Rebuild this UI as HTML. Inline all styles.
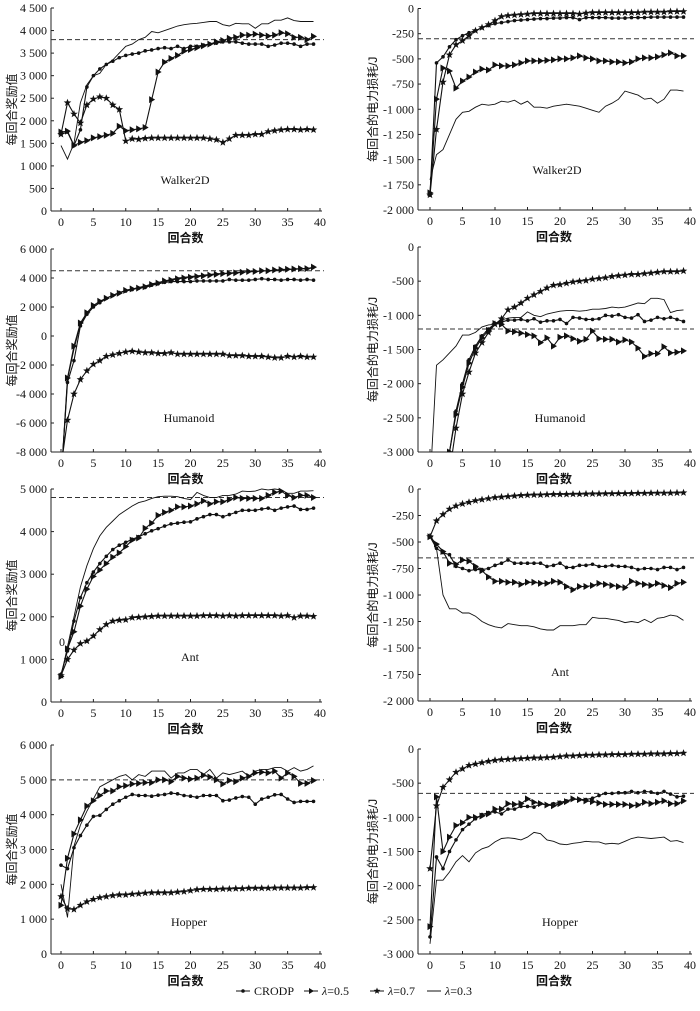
<!DOCTYPE html>
<html><head><meta charset="utf-8">
<style>
body{margin:0;background:#fff;}
svg text{font-family:"Liberation Serif","Noto Serif CJK SC",serif;fill:#111;}
svg text.cjk{font-family:"Liberation Sans","Noto Sans CJK SC",sans-serif;}
</style></head>
<body>
<svg id="chart" width="700" height="1006" viewBox="0 0 700 1006" xmlns="http://www.w3.org/2000/svg"></svg>
<script>
const episodes = Array.from({length:40},(_,i)=>i);
const seriesNames = ["CRODP","λ=0.5","λ=0.7","λ=0.3"];
// Walker2D reward
const w2dRewardCrodp=[1700,1750,1450,1800,2750,3000,3150,3250,3320,3400,3450,3480,3500,3550,3570,3600,3620,3600,3650,3600,3650,3650,3680,3700,3720,3750,3750,3750,3720,3700,3700,3700,3650,3680,3720,3720,3700,3650,3700,3700];
const w2dRewardL05=[1750,1770,1450,1520,1560,1620,1650,1680,1720,1880,1780,1800,1820,1850,2470,3080,3300,3380,3450,3540,3580,3620,3660,3700,3750,3780,3830,3850,3900,3900,3920,3900,3880,3900,3950,3930,3850,3850,3800,3870];
const w2dRewardL07=[1700,2400,2150,1950,2350,2480,2530,2500,2350,2250,1550,1600,1590,1610,1620,1620,1620,1620,1620,1620,1620,1620,1620,1600,1580,1520,1600,1680,1680,1680,1700,1700,1760,1780,1800,1810,1810,1800,1810,1800];
const w2dRewardL03=[1450,1150,1500,2400,2800,3000,3050,3250,3350,3500,3650,3700,3800,3850,3980,3950,4000,4050,4100,4130,4150,4160,4180,4200,4200,4130,4100,4160,4150,4150,4050,4150,4150,4230,4230,4280,4220,4200,4200,4200];
// Walker2D power
const w2dPowerCrodp=[-1850,-540,-480,-380,-310,-270,-240,-220,-190,-170,-150,-140,-130,-120,-115,-110,-105,-100,-100,-95,-95,-90,-90,-110,-90,-90,-90,-90,-95,-95,-95,-90,-90,-90,-85,-85,-85,-85,-85,-85];
const w2dPowerL05=[-1830,-900,-590,-620,-790,-720,-680,-630,-600,-610,-560,-570,-570,-560,-540,-520,-520,-520,-515,-510,-500,-500,-490,-470,-490,-500,-520,-520,-530,-530,-540,-530,-500,-490,-490,-480,-460,-440,-470,-470];
const w2dPowerL07=[-1850,-1200,-730,-460,-360,-320,-270,-220,-190,-160,-120,-80,-70,-65,-60,-55,-50,-50,-50,-50,-50,-50,-50,-55,-45,-40,-40,-40,-40,-40,-40,-40,-40,-35,-35,-35,-35,-30,-30,-30];
const w2dPowerL03=[-1700,-1450,-1400,-1250,-1100,-1030,-1020,-980,-950,-960,-950,-920,-930,-910,-950,-920,-980,-980,-990,-970,-960,-950,-960,-970,-990,-1010,-1030,-970,-940,-900,-820,-840,-860,-900,-890,-940,-900,-810,-810,-820];
// Humanoid reward
const humRewardCrodp=[-10000,-3200,-1700,700,1500,2000,2300,2600,2800,3000,3100,3200,3300,3350,3500,3600,3700,3750,3750,3750,3750,3800,3800,3800,3800,3800,3900,3850,3850,3850,3900,3950,3900,3900,3850,3900,3900,3850,3900,3850];
const humRewardL05=[-10000,-2900,-700,900,1600,2100,2400,2600,2800,2950,3150,3250,3300,3400,3550,3650,3800,3850,3950,4000,4050,4100,4150,4200,4250,4300,4320,4350,4400,4450,4450,4500,4500,4550,4580,4600,4620,4650,4650,4750];
const humRewardL07=[-9000,-5800,-4000,-3000,-2400,-1950,-1700,-1400,-1300,-1200,-1100,-1050,-1100,-1150,-1150,-1200,-1200,-1150,-1250,-1250,-1250,-1250,-1250,-1250,-1250,-1250,-1350,-1350,-1350,-1400,-1400,-1400,-1450,-1500,-1500,-1400,-1450,-1400,-1450,-1450];
const humRewardL03=[-10000,-3000,-900,800,1500,2000,2300,2600,2800,3000,3150,3250,3350,3450,3600,3700,3800,3900,4000,4050,4100,4150,4200,4250,4300,4320,4350,4380,4400,4420,4450,4480,4500,4520,4550,4580,4600,4620,4650,4680];
// Humanoid power
const humPowerCrodp=[-4500,-4000,-3500,-3000,-2400,-2000,-1650,-1450,-1300,-1200,-1120,-1100,-1070,-1070,-1060,-1080,-1050,-1100,-1080,-1080,-1060,-1120,-1030,-1040,-1060,-1060,-1050,-1000,-1010,-990,-1030,-1040,-990,-1090,-1070,-1030,-1050,-1030,-1060,-1090];
const humPowerL05=[-4500,-4200,-3700,-3000,-2450,-2050,-1700,-1480,-1330,-1220,-1120,-1130,-1230,-1240,-1260,-1280,-1300,-1400,-1330,-1450,-1320,-1300,-1340,-1380,-1350,-1230,-1340,-1350,-1350,-1390,-1360,-1390,-1480,-1600,-1560,-1560,-1460,-1550,-1540,-1520];
const humPowerL07=[-5000,-4500,-4000,-3300,-2650,-2150,-1830,-1550,-1400,-1250,-1130,-1050,-920,-880,-820,-750,-700,-650,-600,-560,-550,-530,-510,-500,-490,-470,-460,-450,-430,-420,-410,-400,-400,-390,-380,-370,-360,-360,-360,-350];
const humPowerL03=[-3500,-1730,-1650,-1550,-1450,-1290,-1290,-1250,-1170,-1140,-1130,-1070,-1040,-1030,-1030,-950,-1000,-1020,-980,-960,-940,-930,-930,-940,-930,-910,-910,-900,-880,-890,-880,-850,-820,-830,-750,-750,-770,-960,-930,-920];
// Ant reward
const antRewardCrodp=[650,1200,1900,2450,2800,3050,3250,3420,3580,3680,3750,3820,3880,3950,4020,4070,4130,4180,4200,4220,4230,4300,4350,4400,4400,4350,4400,4450,4500,4500,4500,4530,4550,4500,4550,4580,4600,4520,4520,4550];
const antRewardL05=[600,1250,1650,2250,2650,2950,3100,3250,3400,3500,3650,3800,3850,4080,4200,4380,4450,4500,4580,4580,4600,4650,4720,4650,4700,4700,4750,4800,4780,4780,4780,4780,4850,4920,4950,4850,4800,4850,4850,4800];
const antRewardL07=[620,1000,1220,1370,1430,1550,1700,1820,1900,1920,1930,1980,1990,2000,2010,2020,2020,2020,2020,2020,2020,2020,2030,2030,2030,2020,2030,2020,2030,2030,2030,2030,2030,2030,2020,2030,1980,2020,2020,2010];
const antRewardL03=[600,1300,2000,2700,3200,3600,3900,4100,4250,4400,4500,4600,4680,4720,4780,4820,4830,4830,4820,4780,4750,4920,4850,4800,4800,4850,4850,4880,4950,4940,4950,5000,4980,5000,4980,4900,4900,4950,4950,4960];
// Ant power
const antPowerCrodp=[-450,-560,-600,-620,-730,-750,-770,-760,-760,-750,-720,-700,-670,-700,-700,-700,-700,-700,-730,-720,-700,-740,-740,-720,-720,-710,-730,-730,-720,-730,-730,-740,-760,-750,-750,-760,-740,-740,-760,-740];
const antPowerL05=[-450,-520,-590,-700,-710,-670,-680,-730,-770,-830,-870,-870,-880,-880,-900,-880,-880,-890,-890,-870,-880,-920,-950,-920,-920,-910,-890,-900,-910,-920,-930,-870,-890,-900,-910,-890,-910,-930,-890,-880];
const antPowerL07=[-450,-300,-240,-190,-160,-140,-125,-110,-100,-90,-80,-75,-70,-65,-60,-58,-55,-55,-52,-50,-50,-50,-48,-48,-46,-45,-45,-44,-43,-42,-42,-41,-40,-40,-39,-38,-38,-37,-36,-35];
const antPowerL03=[-420,-560,-1000,-1130,-1130,-1170,-1170,-1200,-1250,-1280,-1300,-1310,-1270,-1280,-1290,-1290,-1300,-1320,-1330,-1330,-1290,-1290,-1290,-1280,-1280,-1210,-1220,-1220,-1230,-1240,-1260,-1250,-1260,-1230,-1260,-1220,-1210,-1190,-1200,-1240];
// Hopper reward
const hopRewardCrodp=[2550,2450,3050,3400,3700,3950,3980,4150,4300,4400,4500,4580,4550,4550,4530,4560,4580,4620,4600,4550,4530,4500,4550,4550,4550,4400,4420,4480,4520,4500,4300,4450,4500,4570,4580,4450,4350,4380,4380,4380];
const hopRewardL05=[1400,2750,3450,3850,4250,4400,4550,4680,4680,4800,4830,4880,4900,4920,4920,5000,5000,4950,5100,5050,5020,5050,5130,5080,5000,4880,4980,4950,5050,5100,5200,5220,5200,5250,5050,5200,5100,4900,4900,4980];
const hopRewardL07=[1650,1300,1280,1400,1500,1570,1620,1650,1680,1700,1700,1720,1730,1750,1760,1760,1760,1760,1780,1790,1820,1850,1860,1860,1860,1870,1870,1880,1880,1890,1890,1890,1890,1900,1900,1900,1900,1900,1910,1910];
const hopRewardL03=[2000,1050,3100,3700,4100,4450,4800,4900,5000,5100,5150,5000,5150,5100,5250,5250,5250,5050,5200,5200,5300,5300,5150,5300,5050,5200,5150,5200,5250,5100,5250,5300,5300,5350,5350,5250,5350,5250,5300,5400];
// Hopper power
const hopPowerCrodp=[-2750,-1580,-1750,-1500,-1330,-1180,-1100,-1020,-960,-930,-920,-950,-880,-880,-840,-840,-850,-800,-820,-800,-780,-760,-730,-740,-740,-720,-680,-650,-650,-640,-640,-620,-640,-620,-630,-650,-620,-660,-700,-690];
const hopPowerL05=[-2600,-700,-1500,-1290,-1120,-1080,-1000,-1000,-980,-950,-880,-880,-800,-810,-800,-730,-780,-800,-820,-830,-800,-770,-730,-740,-760,-770,-790,-810,-810,-810,-810,-830,-820,-780,-800,-780,-760,-800,-800,-760];
const hopPowerL07=[-1750,-830,-560,-450,-340,-290,-240,-220,-200,-180,-165,-155,-150,-145,-140,-135,-130,-130,-125,-120,-110,-100,-100,-95,-90,-90,-85,-85,-80,-80,-80,-75,-75,-75,-70,-70,-70,-65,-65,-60];
const hopPowerL03=[-2850,-1920,-1920,-1800,-1650,-1560,-1650,-1520,-1460,-1430,-1360,-1310,-1300,-1310,-1330,-1290,-1220,-1240,-1330,-1350,-1390,-1400,-1380,-1370,-1350,-1360,-1360,-1390,-1380,-1390,-1350,-1310,-1290,-1300,-1310,-1300,-1290,-1350,-1340,-1370];
// tick value arrays
const xTicks=[0,5,10,15,20,25,30,35,40];
const w2dRewardTicks=[0,500,1000,1500,2000,2500,3000,3500,4000,4500];
const powerTicks250=[0,-250,-500,-750,-1000,-1250,-1500,-1750,-2000];
const humRewardTicks=[-8000,-6000,-4000,-2000,0,2000,4000,6000];
const powerTicks500=[0,-500,-1000,-1500,-2000,-2500,-3000];
const antRewardTicks=[0,1000,2000,3000,4000,5000];
const hopRewardTicks=[0,1000,2000,3000,4000,5000,6000];
const refLines=[3800,-300,4500,-1200,4800,-650,5000,-650];
const envNames=["Walker2D","Walker2D","Humanoid","Humanoid","Ant","Ant","Hopper","Hopper"];

const NS="http://www.w3.org/2000/svg";
const SERIF='"Liberation Serif", "Noto Serif CJK SC", serif';
const SANS='"Liberation Sans", "Noto Sans CJK SC", sans-serif';
const svg=document.getElementById('chart');
function mk(tag,attrs,parent){const e=document.createElementNS(NS,tag);if(tag==='text')e.setAttribute('font-family',SERIF);for(const k in attrs)e.setAttribute(k,attrs[k]);(parent||svg).appendChild(e);return e;}
function fmt(v){const s=Math.abs(v)>=1000?String(Math.abs(v)).replace(/(\d)(\d{3})$/,'$1 $2'):String(Math.abs(v));return (v<0?'-':'')+s;}

const panels=[
 {left:true, top:8,bottom:211,ymin:0,ymax:4500,ticks:w2dRewardTicks,data:[w2dRewardCrodp,w2dRewardL05,w2dRewardL07,w2dRewardL03],title:[185,184]},
 {left:false,top:8.5,bottom:210,ymin:-2000,ymax:0,ticks:powerTicks250,data:[w2dPowerCrodp,w2dPowerL05,w2dPowerL07,w2dPowerL03],title:[557,174]},
 {left:true, top:249,bottom:452,ymin:-8000,ymax:6000,ticks:humRewardTicks,data:[humRewardCrodp,humRewardL05,humRewardL07,humRewardL03],title:[189,422]},
 {left:false,top:247,bottom:452,ymin:-3000,ymax:0,ticks:powerTicks500,data:[humPowerCrodp,humPowerL05,humPowerL07,humPowerL03],title:[560,422]},
 {left:true, top:489,bottom:702,ymin:0,ymax:5000,ticks:antRewardTicks,data:[antRewardCrodp,antRewardL05,antRewardL07,antRewardL03],title:[190,661]},
 {left:false,top:489,bottom:701,ymin:-2000,ymax:0,ticks:powerTicks250,data:[antPowerCrodp,antPowerL05,antPowerL07,antPowerL03],title:[560,676]},
 {left:true, top:745,bottom:954,ymin:0,ymax:6000,ticks:hopRewardTicks,data:[hopRewardCrodp,hopRewardL05,hopRewardL07,hopRewardL03],title:[189,926]},
 {left:false,top:749,bottom:954,ymin:-3000,ymax:0,ticks:powerTicks500,data:[hopPowerCrodp,hopPowerL05,hopPowerL07,hopPowerL03],title:[560,926]},
];

function star(cx,cy,r){let p=[];for(let i=0;i<10;i++){const a=-Math.PI/2+i*Math.PI/5;const rr=i%2?r*0.42:r;p.push((cx+rr*Math.cos(a)).toFixed(1)+','+(cy+rr*Math.sin(a)).toFixed(1));}return p.join(' ');}

panels.forEach((P,pi)=>{
  const ax=P.left?51:418, x0=P.left?61:430, x40=P.left?320:690;
  const xs=v=>x0+(x40-x0)*v/40;
  const ys=v=>P.bottom-(v-P.ymin)/(P.ymax-P.ymin)*(P.bottom-P.top);
  const g=mk('g',{});
  
  
  const cid='clip'+pi;
  const cp=mk('clipPath',{id:cid},g);mk('rect',{x:ax,y:P.top-6,width:x40-ax+8,height:P.bottom-P.top+6},cp);
  const ya=mk('line',{x1:ax,y1:P.top,x2:ax,y2:P.bottom,stroke:'#222','stroke-width':1},g);
  
  const xa=mk('line',{x1:ax,y1:P.bottom,x2:x40+2,y2:P.bottom,stroke:'#222','stroke-width':1},g);
  
  P.ticks.forEach(t=>{
    const y=ys(t);
    mk('line',{x1:ax,y1:y,x2:ax+3,y2:y,stroke:'#222'},g);
    const tx=mk('text',{x:ax-4,y:y+4,'text-anchor':'end','font-size':12},g);tx.textContent=fmt(t);
    
  });
  xTicks.forEach(t=>{
    const x=xs(t);
    mk('line',{x1:x,y1:P.bottom,x2:x,y2:P.bottom-3,stroke:'#222'},g);
    const tx=mk('text',{x:x,y:P.bottom+15,'text-anchor':'middle','font-size':12},g);tx.textContent=t;
    
  });
  const xt=mk('text',{x:(ax+x40)/2,y:P.bottom+31,'text-anchor':'middle','font-size':12,'font-weight':'bold','class':'cjk','font-family':SANS},g);
  xt.textContent='回合数';
  
  const ytx=P.left?16:377, yty=(P.top+P.bottom)/2;
  const yt=mk('text',{x:ytx,y:yty,'text-anchor':'middle','font-size':12,'class':'cjk','font-family':SANS,transform:`rotate(-90 ${ytx} ${yty})`},g);
  yt.textContent=P.left?'每回合奖励值':'每回合的电力损耗/J';
  
  const tt=mk('text',{x:P.title[0],y:P.title[1],'text-anchor':'middle','font-size':12},g);
  tt.textContent=envNames[pi];
  
  const rl=mk('line',{x1:ax,x2:x40+4,y1:ys(refLines[pi]),y2:ys(refLines[pi]),stroke:'#333','stroke-width':1,'stroke-dasharray':'5,3'},g);
  
  const sg=mk('g',{'clip-path':`url(#${cid})`},g);
  [3,0,1,2].forEach(si=>{
    const d=P.data[si];
    const pts=episodes.map(i=>xs(i).toFixed(1)+','+ys(d[i]).toFixed(1)).join(' ');
    const pl=mk('polyline',{points:pts,fill:'none',stroke:'#111','stroke-width':si===3?0.9:1.1},sg);
    
    
    if(si===3)return;
    episodes.forEach(i=>{
      const cx=xs(i), cy=ys(d[i]);
      let m;
      if(si===0)m=mk('circle',{cx:cx,cy:cy,r:1.8,fill:'#111'},sg);
      else if(si===1)m=mk('polygon',{points:`${cx-2.5},${cy-3.5} ${cx+3.5},${cy} ${cx-2.5},${cy+3.5}`,fill:'#111'},sg);
      else m=mk('polygon',{points:star(cx,cy,4),fill:'#111'},sg);
      
      
    });
  });
});

const lg=mk('g',{});


const lx=[250,318,384,441];
seriesNames.forEach((n,si)=>{
  const x=lx[si], y=995;
  const e=mk('g',{},lg);
  
  
  mk('line',{x1:x-14,y1:y-4,x2:x,y2:y-4,stroke:'#111','stroke-width':1},e);
  const cx=x-7, cy=y-4;
  if(si===0)mk('circle',{cx:cx,cy:cy,r:1.8,fill:'#111'},e);
  else if(si===1)mk('polygon',{points:`${cx-2},${cy-3} ${cx+3},${cy} ${cx-2},${cy+3}`,fill:'#111'},e);
  else if(si===2)mk('polygon',{points:star(cx,cy,3.5),fill:'#111'},e);
  const t=mk('text',{x:x+4,y:y,'font-size':12},e);
  if(si===0)t.textContent=n;
  else{const a=mk('tspan',{'font-style':'italic'},t);a.textContent='λ';const b=mk('tspan',{},t);b.textContent=n.slice(1);}
});
const z=mk('text',{x:62,y:646,'font-size':12,'text-anchor':'middle'});
z.textContent='0';


</script>
</body></html>
